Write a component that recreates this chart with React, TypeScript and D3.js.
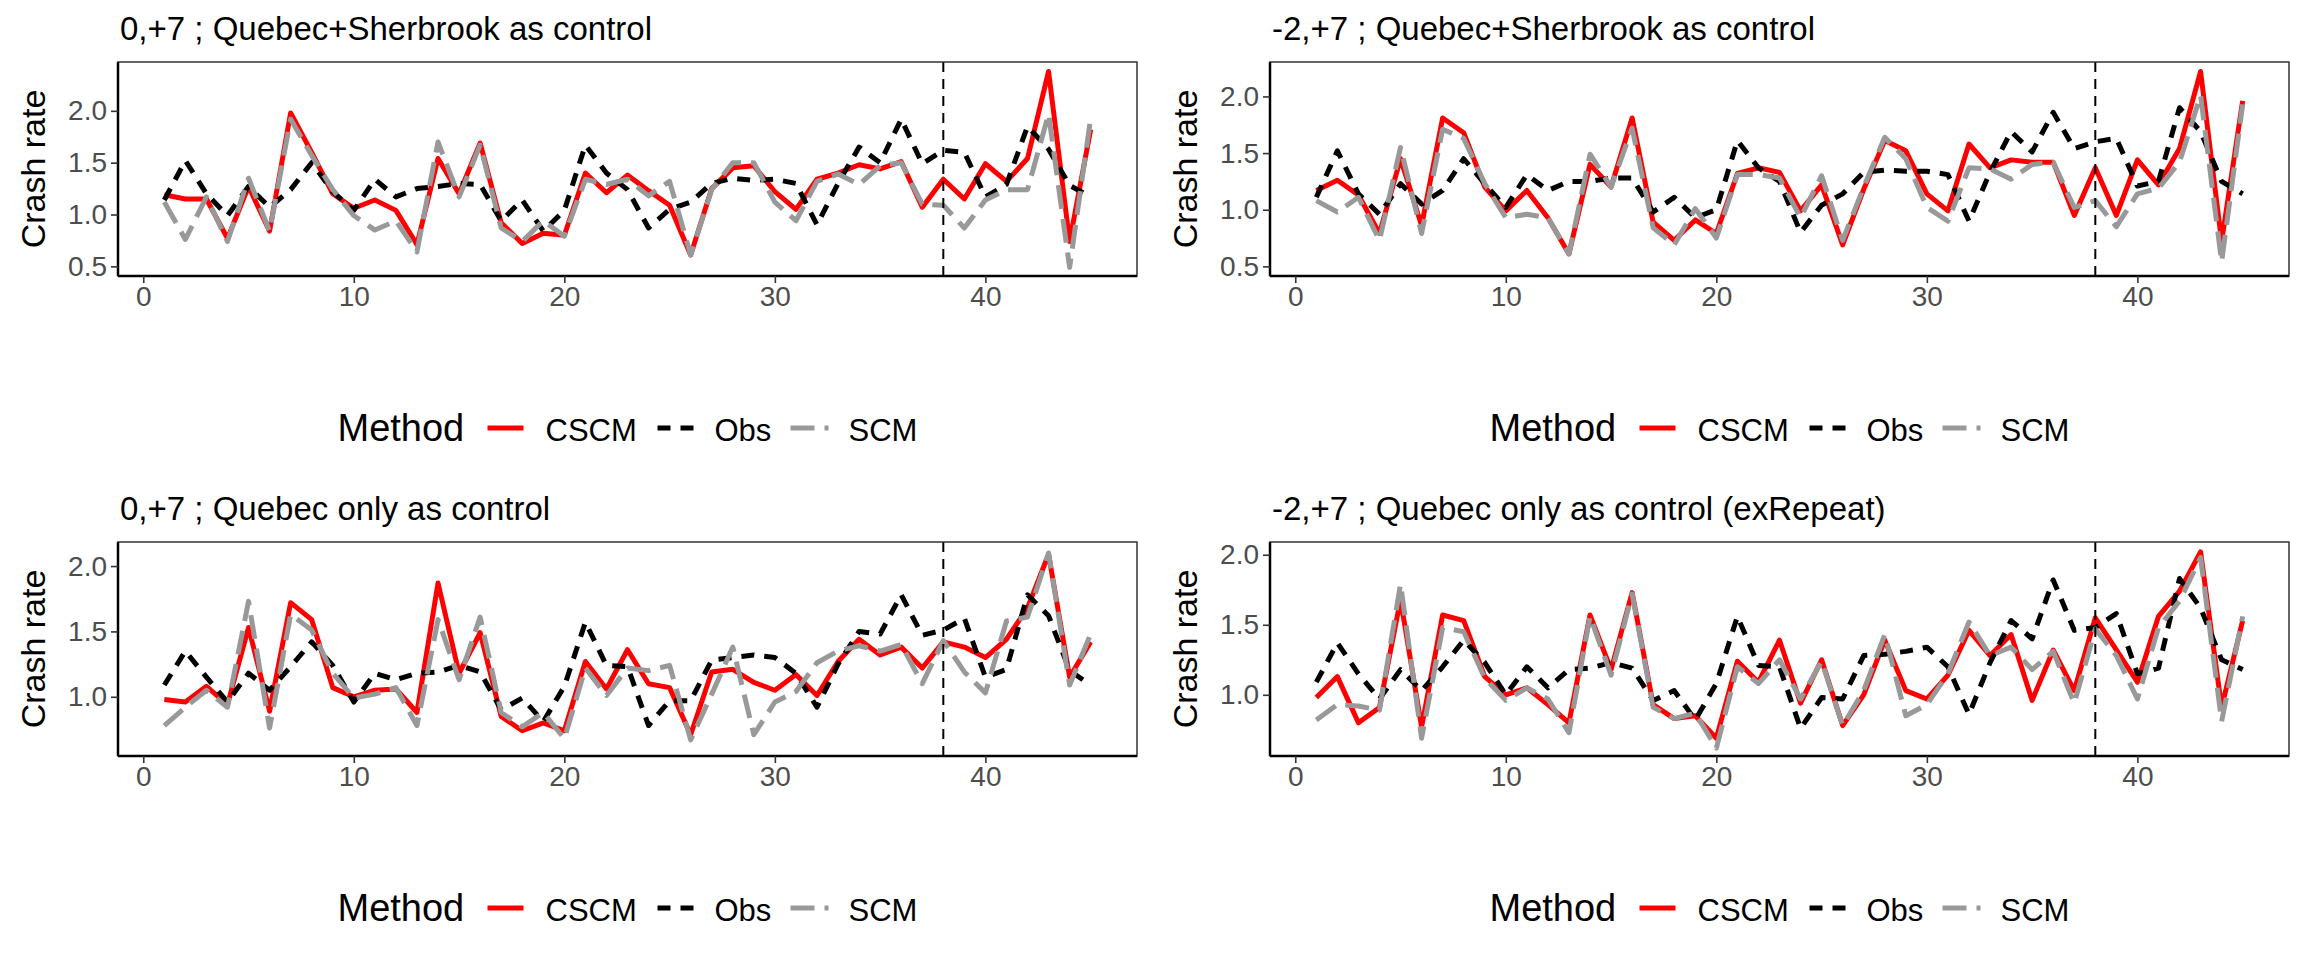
import { useEffect, useRef } from "react";
import * as d3 from "d3";

const WIDTH = 2304;
const HEIGHT = 960;
const PANEL_W = 1152;
const PANEL_H = 480;
const PLOT = { left: 118, right: 1137, top: 62, bottom: 276 };
const FONT = "'Liberation Sans', Arial, Helvetica, sans-serif";
const LINE_W = 5;

// time index 1..45, intervention marked at 38
const TIME = d3.range(1, 46);
const INTERVENTION = 38;
const X_TICKS = [0, 10, 20, 30, 40];

const METHODS = ["CSCM", "Obs", "SCM"];
const METHOD_COLOR: Record<string, string> = { CSCM: "#ff0000", Obs: "#000000", SCM: "#999999" };
const METHOD_DASH: Record<string, string | null> = { CSCM: null, Obs: "13,10", SCM: "24,10" };

// panel 1: 0,+7 ; Quebec+Sherbrook
const P1_CSCM = [1.19, 1.15, 1.15, 0.77, 1.27, 0.84, 1.98, 1.6, 1.2, 1.06, 1.14, 1.04, 0.71, 1.54, 1.2, 1.69, 0.92, 0.72, 0.82, 0.8, 1.4, 1.21, 1.38, 1.23, 1.09, 0.61, 1.25, 1.45, 1.47, 1.22, 1.05, 1.34, 1.4, 1.48, 1.44, 1.51, 1.07, 1.34, 1.15, 1.49, 1.32, 1.54, 2.38, 0.74, 1.82];
const P1_OBS = [1.14, 1.52, 1.2, 0.99, 1.27, 1.07, 1.24, 1.5, 1.22, 1.04, 1.34, 1.17, 1.25, 1.27, 1.3, 1.29, 0.94, 1.14, 0.84, 1.04, 1.67, 1.4, 1.24, 0.87, 1.05, 1.12, 1.3, 1.35, 1.33, 1.34, 1.3, 0.9, 1.3, 1.65, 1.5, 1.92, 1.49, 1.62, 1.6, 1.17, 1.29, 1.85, 1.63, 1.28, 1.17];
const P1_SCM = [1.12, 0.76, 1.17, 0.74, 1.35, 0.84, 1.92, 1.57, 1.24, 0.99, 0.85, 0.94, 0.64, 1.7, 1.17, 1.67, 0.87, 0.74, 0.94, 0.79, 1.34, 1.29, 1.34, 1.18, 1.32, 0.61, 1.24, 1.5, 1.5, 1.12, 0.94, 1.32, 1.39, 1.29, 1.47, 1.5, 1.1, 1.09, 0.87, 1.14, 1.24, 1.24, 1.97, 0.49, 1.93];

// panel 2: -2,+7 ; Quebec+Sherbrook
const P2_CSCM = [1.17, 1.26, 1.13, 0.79, 1.45, 0.86, 1.81, 1.68, 1.2, 0.99, 1.17, 0.93, 0.61, 1.4, 1.2, 1.81, 0.89, 0.73, 0.91, 0.79, 1.32, 1.37, 1.33, 0.99, 1.22, 0.69, 1.18, 1.61, 1.52, 1.14, 0.99, 1.58, 1.37, 1.44, 1.42, 1.42, 0.95, 1.37, 0.95, 1.44, 1.22, 1.54, 2.22, 0.72, 1.96];
const P2_OBS = [1.11, 1.52, 1.14, 0.96, 1.23, 1.05, 1.17, 1.45, 1.23, 1.02, 1.31, 1.17, 1.25, 1.25, 1.28, 1.28, 0.98, 1.11, 0.93, 1.0, 1.61, 1.37, 1.25, 0.8, 1.04, 1.14, 1.33, 1.35, 1.34, 1.34, 1.31, 0.9, 1.33, 1.69, 1.51, 1.86, 1.54, 1.6, 1.63, 1.21, 1.25, 1.9, 1.69, 1.25, 1.14];
const P2_SCM = [1.08, 0.98, 1.11, 0.73, 1.55, 0.79, 1.71, 1.63, 1.23, 0.93, 0.96, 0.93, 0.61, 1.49, 1.2, 1.72, 0.84, 0.69, 1.01, 0.75, 1.31, 1.31, 1.28, 0.93, 1.3, 0.73, 1.2, 1.64, 1.45, 1.02, 0.9, 1.37, 1.36, 1.27, 1.4, 1.42, 1.02, 1.08, 0.85, 1.14, 1.19, 1.42, 2.01, 0.54, 1.93];

// panel 3: 0,+7 ; Quebec only
const P3_CSCM = [0.98, 0.96, 1.08, 0.94, 1.53, 0.89, 1.72, 1.59, 1.07, 1.0, 1.05, 1.06, 0.88, 1.87, 1.18, 1.49, 0.85, 0.74, 0.8, 0.74, 1.27, 1.06, 1.36, 1.1, 1.07, 0.71, 1.19, 1.21, 1.11, 1.05, 1.17, 1.01, 1.27, 1.44, 1.32, 1.38, 1.22, 1.42, 1.38, 1.3, 1.44, 1.68, 2.09, 1.15, 1.42];
const P3_OBS = [1.09, 1.35, 1.15, 0.96, 1.18, 1.05, 1.23, 1.42, 1.24, 0.96, 1.18, 1.13, 1.18, 1.19, 1.24, 1.19, 0.9, 0.99, 0.81, 1.08, 1.57, 1.24, 1.23, 0.78, 0.97, 0.97, 1.28, 1.3, 1.32, 1.3, 1.18, 0.92, 1.25, 1.5, 1.48, 1.78, 1.47, 1.51, 1.6, 1.15, 1.21, 1.78, 1.62, 1.2, 1.09];
const P3_SCM = [0.78, 0.92, 1.05, 0.92, 1.73, 0.76, 1.63, 1.51, 1.18, 0.99, 1.02, 1.07, 0.78, 1.59, 1.13, 1.61, 0.88, 0.77, 0.88, 0.68, 1.22, 1.01, 1.22, 1.2, 1.24, 0.67, 1.02, 1.38, 0.71, 0.96, 1.04, 1.26, 1.35, 1.39, 1.35, 1.4, 1.1, 1.43, 1.19, 1.03, 1.58, 1.61, 2.1, 1.09, 1.48];

// panel 4: -2,+7 ; Quebec only (exRepeat)
const P4_CSCM = [0.98, 1.13, 0.8, 0.91, 1.68, 0.77, 1.57, 1.53, 1.13, 1.0, 1.05, 0.93, 0.8, 1.57, 1.18, 1.73, 0.93, 0.83, 0.85, 0.69, 1.24, 1.09, 1.39, 0.94, 1.25, 0.78, 1.0, 1.39, 1.03, 0.97, 1.14, 1.46, 1.28, 1.43, 0.96, 1.32, 1.03, 1.55, 1.32, 1.09, 1.56, 1.74, 2.02, 0.91, 1.53];
const P4_OBS = [1.09, 1.37, 1.15, 0.97, 1.18, 1.03, 1.2, 1.39, 1.23, 1.0, 1.2, 1.05, 1.18, 1.19, 1.23, 1.19, 0.96, 1.03, 0.82, 1.08, 1.56, 1.21, 1.2, 0.76, 0.98, 0.97, 1.28, 1.29, 1.31, 1.34, 1.2, 0.86, 1.23, 1.53, 1.4, 1.82, 1.46, 1.48, 1.58, 1.15, 1.19, 1.83, 1.62, 1.25, 1.18];
const P4_SCM = [0.82, 0.93, 0.92, 0.89, 1.79, 0.69, 1.48, 1.45, 1.12, 0.96, 1.05, 0.97, 0.73, 1.56, 1.14, 1.72, 0.91, 0.83, 0.87, 0.62, 1.2, 1.08, 1.25, 0.97, 1.24, 0.78, 1.03, 1.43, 0.85, 0.93, 1.15, 1.52, 1.28, 1.34, 1.18, 1.31, 0.94, 1.47, 1.28, 0.97, 1.48, 1.67, 1.98, 0.81, 1.56];

const TITLES = [
  "0,+7 ; Quebec+Sherbrook as control",
  "-2,+7 ; Quebec+Sherbrook as control",
  "0,+7 ; Quebec only as control",
  "-2,+7 ; Quebec only as control (exRepeat)",
];
const Y_TICKS_WIDE = [0.5, 1.0, 1.5, 2.0];
const Y_TICKS_NARROW = [1.0, 1.5, 2.0];

type Panel = {
  title: string;
  series: Record<string, number[]>;
  yDomain: [number, number];
  yTicks: number[];
  col: number;
  row: number;
};

const PANELS: Panel[] = [
  { title: TITLES[0], series: { CSCM: P1_CSCM, Obs: P1_OBS, SCM: P1_SCM }, yDomain: [0.407, 2.471], yTicks: Y_TICKS_WIDE, col: 0, row: 0 },
  { title: TITLES[1], series: { CSCM: P2_CSCM, Obs: P2_OBS, SCM: P2_SCM }, yDomain: [0.415, 2.304], yTicks: Y_TICKS_WIDE, col: 1, row: 0 },
  { title: TITLES[2], series: { CSCM: P3_CSCM, Obs: P3_OBS, SCM: P3_SCM }, yDomain: [0.547, 2.184], yTicks: Y_TICKS_NARROW, col: 0, row: 1 },
  { title: TITLES[3], series: { CSCM: P4_CSCM, Obs: P4_OBS, SCM: P4_SCM }, yDomain: [0.563, 2.091], yTicks: Y_TICKS_NARROW, col: 1, row: 1 },
];

// legend item offsets from the panel centre
const LEGEND = {
  y: 428,
  baseline: 441,
  titleX: -290,
  keys: [
    { method: "CSCM", x0: -140, x1: -104, label: -82 },
    { method: "Obs", x0: 30, x1: 66, label: 87 },
    { method: "SCM", x0: 163, x1: 201, label: 221 },
  ],
};

function drawPanel(root: d3.Selection<SVGGElement, unknown, null, undefined>, panel: Panel) {
  const g = root
    .append("g")
    .attr("transform", `translate(${panel.col * PANEL_W},${panel.row * PANEL_H})`);

  const x = d3.scaleLinear().domain([-1.2, 47.2]).range([PLOT.left, PLOT.right]);
  const y = d3.scaleLinear().domain(panel.yDomain).range([PLOT.bottom, PLOT.top]);

  g.append("text")
    .attr("x", PLOT.left + 2)
    .attr("y", 40)
    .attr("font-size", 33)
    .attr("fill", "#000")
    .text(panel.title);

  g.append("text")
    .attr("transform", `translate(45,${(PLOT.top + PLOT.bottom) / 2}) rotate(-90)`)
    .attr("text-anchor", "middle")
    .attr("font-size", 34)
    .attr("fill", "#000")
    .text("Crash rate");

  const line = d3
    .line<number>()
    .x((_, i) => x(TIME[i]))
    .y((d) => y(d));

  const chart = g.append("g");
  for (const m of METHODS) {
    chart
      .append("path")
      .datum(panel.series[m])
      .attr("d", line)
      .attr("fill", "none")
      .attr("stroke", METHOD_COLOR[m])
      .attr("stroke-width", LINE_W)
      .attr("stroke-linejoin", "round")
      .attr("stroke-dasharray", METHOD_DASH[m]);
  }

  chart
    .append("line")
    .attr("x1", x(INTERVENTION))
    .attr("x2", x(INTERVENTION))
    .attr("y1", PLOT.top)
    .attr("y2", PLOT.bottom)
    .attr("stroke", "#000")
    .attr("stroke-width", 2)
    .attr("stroke-dasharray", "10,7");

  // panel border, with heavier axis lines on left/bottom
  g.append("rect")
    .attr("x", PLOT.left)
    .attr("y", PLOT.top)
    .attr("width", PLOT.right - PLOT.left)
    .attr("height", PLOT.bottom - PLOT.top)
    .attr("fill", "none")
    .attr("stroke", "#333")
    .attr("stroke-width", 1.5);

  const yAxis = g
    .append("g")
    .attr("transform", `translate(${PLOT.left},0)`)
    .call(d3.axisLeft(y).tickValues(panel.yTicks).tickFormat(d3.format(".1f")).tickSize(7).tickPadding(4));
  const xAxis = g
    .append("g")
    .attr("transform", `translate(0,${PLOT.bottom})`)
    .call(d3.axisBottom(x).tickValues(X_TICKS).tickFormat(d3.format("d")).tickSize(7).tickPadding(3));

  for (const ax of [yAxis, xAxis]) {
    ax.select(".domain").attr("stroke", "#000").attr("stroke-width", 2.5);
    ax.selectAll(".tick line").attr("stroke", "#333").attr("stroke-width", 1.6);
    ax.selectAll(".tick text")
      .attr("font-size", 28)
      .attr("font-family", FONT)
      .attr("fill", "#4d4d4d");
  }
  xAxis.select(".domain").attr("d", `M${PLOT.left},0H${PLOT.right}`);
  yAxis.select(".domain").attr("d", `M0,${PLOT.top}V${PLOT.bottom}`);

  // legend below the panel
  const cx = (PLOT.left + PLOT.right) / 2;
  const legend = g.append("g").attr("transform", `translate(${cx},0)`);
  legend
    .append("text")
    .attr("x", LEGEND.titleX)
    .attr("y", LEGEND.baseline)
    .attr("font-size", 38)
    .attr("fill", "#000")
    .text("Method");

  for (const k of LEGEND.keys) {
    legend
      .append("line")
      .attr("x1", k.x0)
      .attr("x2", k.x1)
      .attr("y1", LEGEND.y)
      .attr("y2", LEGEND.y)
      .attr("stroke", METHOD_COLOR[k.method])
      .attr("stroke-width", LINE_W)
      .attr("stroke-dasharray", METHOD_DASH[k.method]);
    legend
      .append("text")
      .attr("x", k.label)
      .attr("y", LEGEND.baseline)
      .attr("font-size", 31)
      .attr("fill", "#000")
      .text(k.method);
  }
}

export default function App() {
  const svgRef = useRef<SVGSVGElement>(null);

  useEffect(() => {
    document.body.style.margin = "0";
    const svgElement = svgRef.current;
    if (!svgElement) return;

    const svg = d3.select(svgElement);
    svg.selectAll("*").remove();
    svg.append("rect").attr("width", WIDTH).attr("height", HEIGHT).attr("fill", "#fff");

    const root = svg.append("g").attr("font-family", FONT);
    PANELS.forEach((p) => drawPanel(root, p));
  }, []);

  return (
    <svg
      ref={svgRef}
      width={WIDTH}
      height={HEIGHT}
      style={{ display: "block" }}
      role="img"
      aria-label="Crash rate by method, four control scenarios"
    />
  );
}
